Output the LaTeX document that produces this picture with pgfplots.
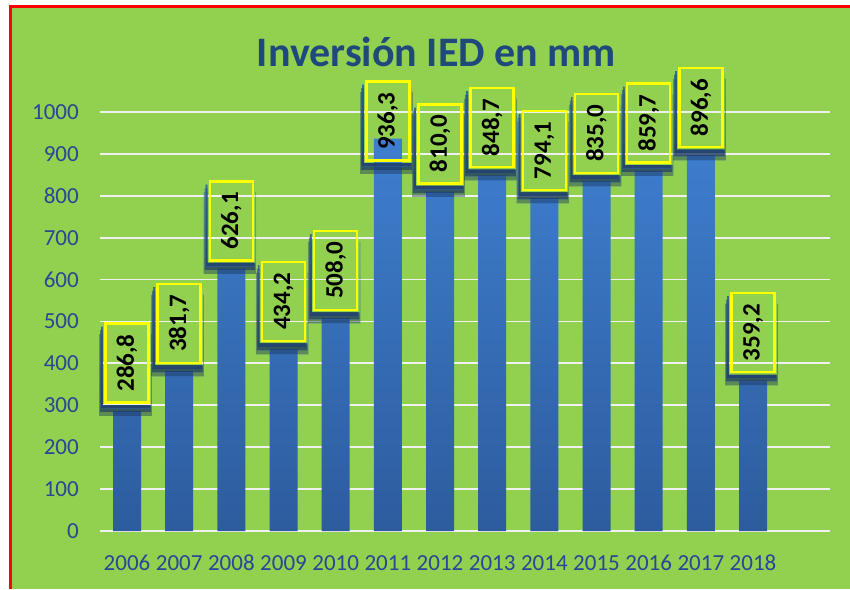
\documentclass[border=0pt]{standalone}
\usepackage{pgfplots}
\pgfplotsset{compat=1.18}
\usepackage{pgfplotstable}
\usepackage{fontspec}
\setmainfont{Carlito}
\usetikzlibrary{calc}
\definecolor{bg}{RGB}{146,208,80}
\definecolor{titleblue}{RGB}{31,73,125}
\definecolor{tickblue}{RGB}{38,72,150}
\definecolor{bartop}{RGB}{62,126,206}
\definecolor{barbot}{RGB}{45,92,158}
\definecolor{labelyellow}{RGB}{255,255,0}

\pgfplotstableread{
x y sh
0 286.8 7
1 381.7 7
2 626.1 7
3 434.2 7
4 508.0 7
5 936.3 -23.3
6 810.0 7
7 848.7 7
8 794.1 7
9 835.0 7
10 859.7 7
11 896.6 7
12 359.2 7
}\datatable

\begin{document}
\begin{tikzpicture}[x=1pt,y=1pt]
\path[use as bounding box] (0,0) rectangle (850,589);
\fill[white] (0,0) rectangle (850,589);
\fill[bg] (10,0) rectangle (850,582);
\draw[red, line width=3pt] (10,0) -- (10,582) -- (850,582);
\node[font=\fontsize{42}{42}\selectfont\bfseries, text=titleblue, anchor=base, inner sep=0pt] at (436.5,522) {Inversión IED en mm};
\begin{axis}[
  at={(100pt,58pt)}, anchor=south west,
  scale only axis, width=730pt, height=461pt,
  xmin=-0.518, xmax=13.476, ymin=0, ymax=1100,
  ytick={0,100,...,1000},
  xtick={0,...,12},
  xticklabels={2006,2007,2008,2009,2010,2011,2012,2013,2014,2015,2016,2017,2018},
  axis line style={draw=none},
  major tick length=0pt,
  ymajorgrids,
  grid style={draw=white!88!gray, line width=1.8pt},
  /pgf/number format/assume math mode=true,
  /pgf/number format/1000 sep={},
  ticklabel style={font=\fontsize{23}{23}\selectfont, text=tickblue, inner sep=0pt},
  xticklabel style={anchor=base, yshift=-39pt},
  yticklabel style={anchor=east, xshift=-21pt},
  clip=false,
]
\addplot[ybar, bar width=28pt, bar shift=0pt, draw=none,
  top color=bartop, bottom color=barbot,
  visualization depends on={\thisrow{sh} \as \myshift},
  nodes near coords={\rotatebox{90}{\pgfmathprintnumber[fixed,zerofill,precision=1,use comma,assume math mode=true]{\pgfplotspointmeta}}},
  every node near coord/.style={
    anchor=south, yshift=\myshift pt,
    font=\fontsize{25}{25}\selectfont\bfseries, text=black,
    draw=labelyellow, line width=2.5pt, fill=none,
    minimum width=43pt, minimum height=79pt, inner sep=0pt,
    append after command={\pgfextra{
      \begin{pgfscope}
      \pgftransformreset
      \pgfseteorule
      \pgfpathrectanglecorners
        {\pgfpointadd{\pgfpointanchor{\tikzlastnode}{south west}}{\pgfpoint{-20pt}{-20pt}}}
        {\pgfpointadd{\pgfpointanchor{\tikzlastnode}{north east}}{\pgfpoint{20pt}{20pt}}}
      \pgfpathrectanglecorners
        {\pgfpointadd{\pgfpointanchor{\tikzlastnode}{south west}}{\pgfpoint{-1.3pt}{-1.3pt}}}
        {\pgfpointadd{\pgfpointanchor{\tikzlastnode}{north east}}{\pgfpoint{1.3pt}{1.3pt}}}
      \pgfusepath{clip}
      \fill[black, fill opacity=0.25]
        ($(\tikzlastnode.south west)+(-5pt,-12pt)$) rectangle ($(\tikzlastnode.north east)+(2pt,-12pt)$);
      \fill[black, fill opacity=0.4]
        ($(\tikzlastnode.south west)+(-4pt,-8pt)$) rectangle ($(\tikzlastnode.north east)+(1pt,-8pt)$);
      \fill[black, fill opacity=0.6]
        ($(\tikzlastnode.south west)+(-3pt,-4.5pt)$) rectangle ($(\tikzlastnode.north east)+(0pt,-4.5pt)$);
      \end{pgfscope}
    }}
  },
] table[x=x, y=y] {\datatable};
\end{axis}
\end{tikzpicture}
\end{document}
